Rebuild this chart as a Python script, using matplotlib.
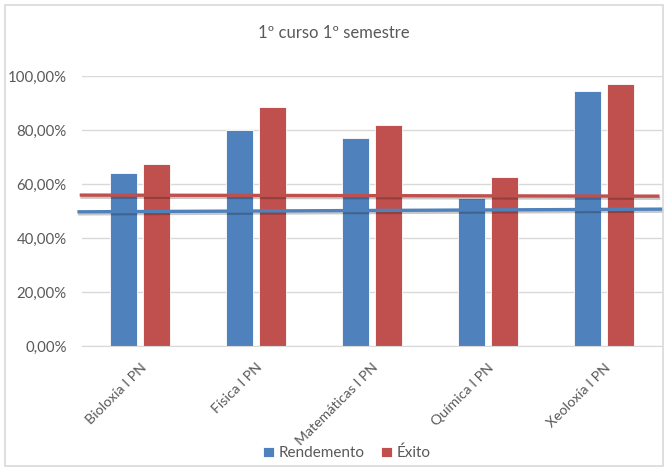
import matplotlib
matplotlib.use("Agg")
import matplotlib.pyplot as plt
import matplotlib.patheffects as pe
from matplotlib.patches import Rectangle
import numpy as np

categories = ["Bioloxía I PN", "Física I PN", "Matemáticas I PN", "Química I PN", "Xeoloxía I PN"]
rendemento = [63.9, 80.0, 77.0, 54.9, 94.6]
exito = [67.3, 88.4, 81.9, 62.7, 97.2]
series_names = ["Rendemento", "Éxito"]
# reference lines (start, end) in %
ref_rendemento = [49.7, 50.7]
ref_exito = [55.9, 55.5]
yticks = [0, 20, 40, 60, 80, 100]
ytick_labels = ["0,00%", "20,00%", "40,00%", "60,00%", "80,00%", "100,00%"]
title = "1º curso 1º semestre"

blue = "#4F81BD"
red = "#C0504D"
txt = "#595959"
plt.rcParams['font.family'] = ['Lato', 'DejaVu Sans']

fig = plt.figure(figsize=(6.68, 4.70), dpi=100)
fig.patches.append(Rectangle((0.008, 0.008), 0.984, 0.982, transform=fig.transFigure,
                             fill=False, edgecolor="#D9D9D9", linewidth=1.2))
ax = fig.add_axes([0.1228, 0.2638, 0.868, 0.5745])

x = np.arange(len(categories))
w = 0.228
off = 0.143
ax.bar(x - off, rendemento, w, color=blue, edgecolor="white", linewidth=0.6, label=series_names[0], zorder=2)
ax.bar(x + off, exito, w, color=red, edgecolor="white", linewidth=0.6, label=series_names[1], zorder=2)

shadow = [pe.SimpleLineShadow(offset=(0.5, -1.5), shadow_color="black", alpha=0.22), pe.Normal()]
ax.plot([-0.52, 4.48], ref_exito, color=red, lw=2.4, clip_on=False, zorder=3, path_effects=shadow, solid_capstyle='butt')
ax.plot([-0.54, 4.51], ref_rendemento, color=blue, lw=2.4, clip_on=False, zorder=3, path_effects=shadow, solid_capstyle='butt')

ax.set_xlim(-0.5, 4.5)
ax.set_ylim(0, 100)
ax.set_yticks(yticks)
ax.set_yticklabels(ytick_labels, color=txt, fontsize=10.8)
ax.set_xticks(x)
ax.set_xticklabels(categories, rotation=45, ha='right', va='top', rotation_mode='anchor',
                   color=txt, fontsize=10.2)
ax.tick_params(axis='y', length=0, pad=11)
ax.tick_params(axis='x', length=0, pad=11)
ax.grid(axis='y', color="#D9D9D9", linewidth=1, zorder=0)
ax.set_axisbelow(True)
for s in ["top", "right", "left"]:
    ax.spines[s].set_visible(False)
ax.spines["bottom"].set_color("#D9D9D9")

fig.text(0.5, 0.93, title, ha='center', va='center', fontsize=12, color=txt)
leg = fig.legend(loc='center', bbox_to_anchor=(0.519, 0.036), ncol=2, frameon=False,
                 handlelength=0.7, handleheight=0.7, handletextpad=0.3, columnspacing=1.1,
                 fontsize=11)
for t in leg.get_texts():
    t.set_color(txt)

fig.savefig("out.png", dpi=100)
